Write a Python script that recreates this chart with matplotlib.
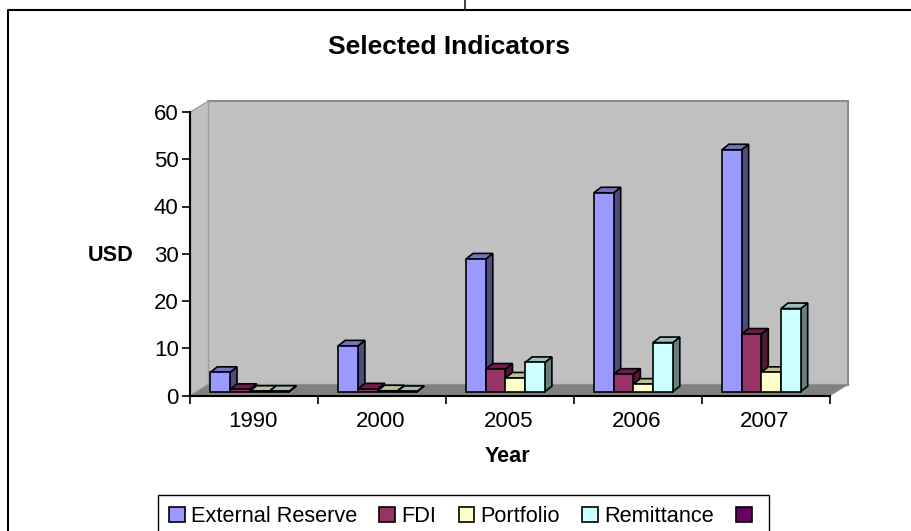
# -*- coding: utf-8 -*-
"""Selected Indicators: 3D-look clustered bars, drawn with plain 2D patches."""
import matplotlib
matplotlib.use("Agg")
import matplotlib.pyplot as plt
from matplotlib.lines import Line2D
from matplotlib.patches import Patch, Polygon
from matplotlib.transforms import Affine2D

plt.rcParams.update({"font.family": ["Liberation Sans", "DejaVu Sans"]})

years = ["1990", "2000", "2005", "2006", "2007"]
series_names = ["External Reserve", "FDI", "Portfolio", "Remittance", ""]
external_reserve = [4.1, 9.7, 28.1, 42.1, 51.2]
fdi = [0.5, 0.6, 4.8, 3.7, 12.2]
portfolio = [0.1, 0.2, 2.9, 1.6, 4.1]
remittance = [0.1, 0.05, 6.2, 10.4, 17.6]
y_ticks = [0, 10, 20, 30, 40, 50, 60]

# front, top and side shades per series
faces = ["#9999FF", "#993366", "#FFFFCC", "#CCFFFF", "#660066"]
tops = ["#7373BF", "#731A4D", "#BFBF99", "#99BFBF", "#4D004D"]
sides = ["#4D4D80", "#4D1A33", "#808066", "#668080", "#330033"]

W, H = 912, 531
L, R, T, B = 190.5, 830.0, 112.0, 395.5  # plot rectangle, pixels from top-left
px_x = (R - L) / len(years)
px_y = (B - T) / 60


def fx(x):
    return x / W


def fy(y):
    return 1 - y / H


fig = plt.figure(figsize=(W / 100, H / 100), dpi=100)
ax = fig.add_axes([fx(L), fy(B), (R - L) / W, (B - T) / H])
ax.set_xlim(0, len(years))
ax.set_ylim(0, 60)

# depth of the box and of each bar, in data units
box_dx, box_dy = 18 / px_x, 11 / px_y
bar_dx, bar_dy = 7 / px_x, 5.5 / px_y
bar_w = 19.7 / px_x
group_start = 19.8 / px_x
n = len(years)

ax.add_patch(Polygon([(box_dx, box_dy), (n + box_dx, box_dy), (n + box_dx, 60 + box_dy), (box_dx, 60 + box_dy)],
                     fc="#C0C0C0", ec="#8C8C8C", lw=1.5, clip_on=False, zorder=1))
ax.add_patch(Polygon([(0, 0), (box_dx, box_dy), (box_dx, 60 + box_dy), (0, 60)],
                     fc="#C0C0C0", ec="#A0A0A0", lw=1.0, clip_on=False, zorder=1))
ax.add_patch(Polygon([(0, 0), (n, 0), (n + box_dx, box_dy), (box_dx, box_dy)],
                     fc="#808080", ec="#909090", lw=0.8, clip_on=False, zorder=1))

# bars stand a little in front of the back wall and above the axis line
bar_tf = ax.transData + Affine2D().translate(0, 3.8)

values = [external_reserve, fdi, portfolio, remittance]
z = 3
for g in range(n):
    for s, vals in enumerate(values):
        x0 = g + group_start + s * bar_w
        v = vals[g]
        ax.add_patch(Polygon([(x0 + bar_w, 0), (x0 + bar_w + bar_dx, bar_dy), (x0 + bar_w + bar_dx, v + bar_dy), (x0 + bar_w, v)],
                             fc=sides[s], ec="black", lw=1.2, transform=bar_tf, clip_on=False, zorder=z))
        ax.add_patch(Polygon([(x0, v), (x0 + bar_w, v), (x0 + bar_w + bar_dx, v + bar_dy), (x0 + bar_dx, v + bar_dy)],
                             fc=tops[s], ec="black", lw=1.2, transform=bar_tf, clip_on=False, zorder=z))
        ax.bar(x0, v, width=bar_w, align="edge", color=faces[s], edgecolor="black", lw=1.2,
               transform=bar_tf, clip_on=False, zorder=z + 0.5)
        z += 1

for side in ("top", "right"):
    ax.spines[side].set_visible(False)
for side in ("left", "bottom"):
    ax.spines[side].set_linewidth(1.5)
    ax.spines[side].set_zorder(2)

ax.set_yticks(y_ticks)
ax.set_xticks(range(n + 1))
ax.set_xticklabels([])
ax.set_xticks([i + 0.485 for i in range(n)], labels=years, minor=True)
ax.tick_params(axis="x", which="major", length=5.5, width=1.2, direction="out")
ax.tick_params(axis="x", which="minor", length=0, labelsize=16, pad=11)
ax.tick_params(axis="y", length=5.5, width=1.2, labelsize=16, pad=3)

fig.text(fx(449.5), fy(47), "Selected Indicators", fontsize=19, fontweight="bold", ha="center", va="center")
fig.text(fx(110.5), fy(256), "USD", fontsize=15.6, fontweight="bold", ha="center", va="center")
fig.text(fx(508), fy(457), "Year", fontsize=15.6, fontweight="bold", ha="center", va="center")

# outer chart border runs off the right and bottom edges
fig.add_artist(Line2D([fx(8.5), fx(8.5), 1.0], [0, fy(10), fy(10)], color="black", lw=1.5))
fig.add_artist(Line2D([fx(465), fx(465)], [fy(10), 1.0], color="#222222", lw=1.2))

handles = [Patch(fc=c, ec="black", lw=1.2) for c in faces]
leg = fig.legend(handles, series_names, ncols=5, loc="upper left",
                 bbox_to_anchor=(fx(158), fy(495)), bbox_transform=fig.transFigure,
                 fontsize=15.7, frameon=True, fancybox=False, framealpha=1, edgecolor="black",
                 handlelength=0.73, handleheight=0.67, handletextpad=0.27, columnspacing=1.03,
                 borderpad=0.5, borderaxespad=0)
leg.get_frame().set_linewidth(1.0)

fig.savefig("out.png", dpi=100)
